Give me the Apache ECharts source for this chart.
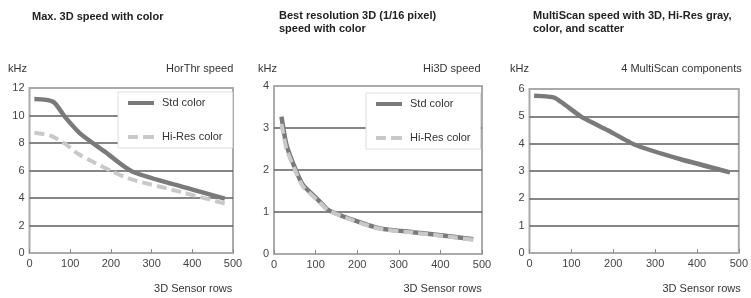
<!DOCTYPE html>
<html>
<head>
<meta charset="utf-8">
<script src="https://cdn.jsdelivr.net/npm/echarts@6/dist/echarts.min.js"></script>
<style>
  html, body { margin: 0; padding: 0; background: #fff; }
  #main { width: 751px; height: 298px; }
</style>
</head>
<body>
<div id="main"></div>
<script>
// chart 1: HorThr speed
const rows1Std = [12, 58, 87, 124, 186, 251, 360, 480];
const std1 = [11.2, 11.0, 9.9, 8.7, 7.35, 5.95, 4.95, 3.95];
const rows1Hi = [12, 50, 87, 120, 202, 251, 357, 480];
const hi1 = [8.75, 8.55, 7.95, 7.2, 5.95, 5.35, 4.55, 3.6];

// chart 2: Hi3D speed
const rows2 = [18, 30, 54, 70, 106, 130, 190, 254, 334, 406, 479];
const std2 = [3.27, 2.6, 1.96, 1.64, 1.29, 1.05, 0.81, 0.61, 0.52, 0.44, 0.35];
const hi2 = [3.1, 2.5, 1.92, 1.6, 1.27, 1.04, 0.8, 0.6, 0.51, 0.43, 0.34];

// chart 3: MultiScan
const rows3 = [11, 60, 124, 187, 250, 361, 479];
const multi3 = [5.75, 5.68, 4.98, 4.49, 3.97, 3.43, 2.95];

const xMax = 500, xStep = 100;
const yMax = [12, 4, 6];
const yStep = [2, 1, 1];

const font = 'Liberation Sans, Arial, sans-serif';
const pair = (xs, ys) => xs.map((x, i) => [x, ys[i]]);

var myChart = echarts.init(document.getElementById('main'));

const grids = [
  { left: 29.5, right: 518, top: 88, bottom: 45 },
  { left: 274, right: 269, top: 86, bottom: 44 },
  { left: 529.5, right: 10.5, top: 89, bottom: 45 }
].map(g => Object.assign(g, { show: true, borderColor: '#aaa', borderWidth: 2 }));

const xAxes = [0, 1, 2].map(i => ({
  type: 'value', gridIndex: i, min: 0, max: xMax, interval: xStep,
  axisLine: { show: false },
  axisTick: { show: true, inside: true, length: 4, lineStyle: { color: '#888' } },
  axisLabel: { fontSize: 11, color: '#444', fontFamily: font, margin: 5 },
  splitLine: { show: false }
}));

const yAxes = [0, 1, 2].map(i => ({
  type: 'value', gridIndex: i, min: 0, max: yMax[i], interval: yStep[i],
  axisLine: { show: false },
  axisTick: { show: false },
  axisLabel: { fontSize: 11, color: '#444', fontFamily: font, margin: 5 },
  splitLine: { show: true, showMinLine: false, showMaxLine: false, lineStyle: { color: '#5e5e5e', width: 1.5 } }
}));

const stdLine = { color: '#7a7a7a', width: 4.5 };
const hiLine = { color: '#c9c9c9', width: 4, type: [10, 5] };

const text = (t, pos, bold) => Object.assign({
  text: t, padding: 0,
  textStyle: { fontSize: 11, fontWeight: bold ? 'bold' : 'normal', color: bold ? '#222' : '#333', fontFamily: font, lineHeight: 13 }
}, pos);

const solidIcon = 'path://M0,0h26v4h-26z';
const dashIcon = 'path://M0,0h10v4h-10zM15,0h11v4h-11z';

const legendBase = {
  orient: 'vertical', itemWidth: 26, itemHeight: 4, itemGap: 20,
  padding: [4, 10, 4, 10], backgroundColor: '#fff', borderColor: '#ddd', borderWidth: 1,
  itemStyle: { borderWidth: 0 },
  textStyle: { fontSize: 11, color: '#333', fontFamily: font, lineHeight: 14, padding: [0, 0, 0, 3] },
  data: [{ name: 'Std color', icon: solidIcon }, { name: 'Hi-Res color', icon: dashIcon }],
  selectedMode: false
};

myChart.setOption({
  animation: false,
  title: [
    text('Max. 3D speed with color', { left: 32, top: 10 }, true),
    text('Best resolution 3D (1/16 pixel)\nspeed with color', { left: 279, top: 9.5 }, true),
    text('MultiScan speed with 3D, Hi-Res gray,\ncolor, and scatter', { left: 533, top: 9.5 }, true),
    text('kHz', { left: 8, top: 62 }),
    text('kHz', { left: 258, top: 62 }),
    text('kHz', { left: 510, top: 62 }),
    text('HorThr speed', { right: 517.7, top: 62 }),
    text('Hi3D speed', { right: 270.5, top: 62 }),
    text('4 MultiScan components', { right: 9.3, top: 62 }),
    text('3D Sensor rows', { right: 518.7, top: 282 }),
    text('3D Sensor rows', { right: 269.3, top: 282 }),
    text('3D Sensor rows', { right: 10.3, top: 282 })
  ],
  legend: [
    Object.assign({ left: 118, top: 92 }, legendBase),
    Object.assign({ left: 366, top: 93 }, legendBase)
  ],
  grid: grids,
  xAxis: xAxes,
  yAxis: yAxes,
  series: [
    { name: 'Std color', type: 'line', xAxisIndex: 0, yAxisIndex: 0, data: pair(rows1Std, std1),
      symbol: 'none', smooth: 0.25, lineStyle: stdLine, itemStyle: { color: stdLine.color } },
    { name: 'Hi-Res color', type: 'line', xAxisIndex: 0, yAxisIndex: 0, data: pair(rows1Hi, hi1),
      symbol: 'none', smooth: 0.25, lineStyle: hiLine, itemStyle: { color: hiLine.color } },
    { name: 'Std color', type: 'line', xAxisIndex: 1, yAxisIndex: 1, data: pair(rows2, std2),
      symbol: 'none', smooth: 0.2, lineStyle: stdLine, itemStyle: { color: stdLine.color } },
    { name: 'Hi-Res color', type: 'line', xAxisIndex: 1, yAxisIndex: 1, data: pair(rows2, hi2),
      symbol: 'none', smooth: 0.2, lineStyle: hiLine, itemStyle: { color: hiLine.color } },
    { name: 'MultiScan', type: 'line', xAxisIndex: 2, yAxisIndex: 2, data: pair(rows3, multi3),
      symbol: 'none', smooth: 0.15, lineStyle: stdLine, itemStyle: { color: stdLine.color } }
  ]
});
</script>
</body>
</html>
